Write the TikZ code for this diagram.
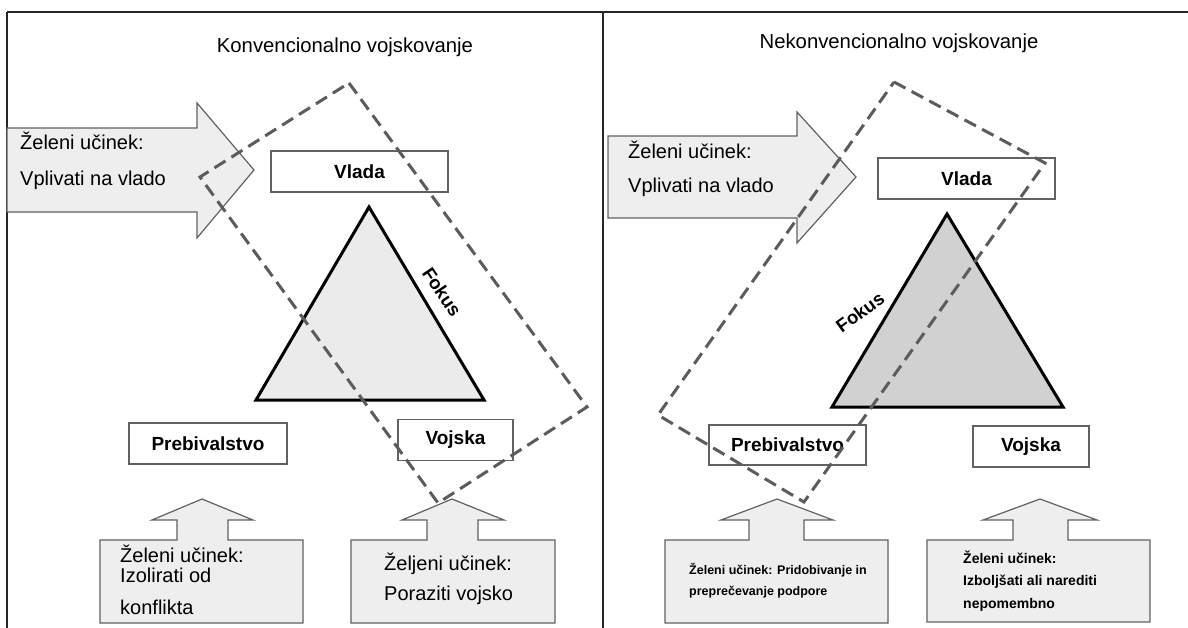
\documentclass[tikz,border=0pt]{standalone}
\usepackage{fontspec}
\setmainfont{Liberation Sans}
\usepackage{xcolor}
\usetikzlibrary{calc}
\definecolor{effectfill}{gray}{0.935}
\definecolor{lightpeak}{gray}{0.92}
\definecolor{darkpeak}{gray}{0.82}
\definecolor{edgegray}{gray}{0.38}
\definecolor{focusgray}{gray}{0.36}
\tikzset{
  heading/.style={inner sep=0pt,font=\fontsize{20.3}{24}\selectfont},
  effecttext/.style={anchor=west,inner sep=0pt,text height=0.75em,text depth=0.2em,font=\fontsize{20}{24}\selectfont},
  smalleffect/.style={anchor=west,inner sep=0pt,text height=0.75em,text depth=0.2em,font=\fontsize{12.5}{15}\selectfont\bfseries},
  mideffect/.style={anchor=west,inner sep=0pt,text height=0.75em,text depth=0.2em,font=\fontsize{14}{17}\selectfont\bfseries},
  field/.style={draw=edgegray,line width=1.5pt,fill=white,inner sep=0pt,minimum height=41pt,font=\fontsize{19}{22}\selectfont\bfseries},
  effect/.style={draw=edgegray,line width=1.2pt,fill=effectfill,line join=miter},
  peak/.style={draw=black,line width=3pt,line join=miter},
  focusline/.style={draw=focusgray,line width=3pt,dash pattern=on 13pt off 7pt},
  focuslabel/.style={inner sep=0pt,font=\fontsize{18.5}{20}\selectfont\bfseries}
}
\begin{document}
\begin{tikzpicture}[x=1pt,y=-1pt]
  \useasboundingbox (0,0) rectangle (1188,628);
  % frame
  \draw[line width=2.5pt,black!85] (7,12) -- (1188,12);
  \draw[line width=2pt,black!85] (7,12) -- (7,628);
  \draw[line width=2pt,black!85] (603,12) -- (603,628);

  % conventional warfare
  \node[heading] (titleL) at (345,47) {Konvencionalno vojskovanje};
  \draw[effect] (7,128) -- (197,128) -- (197,103) -- (254,170) -- (197,238) -- (197,212) -- (7,212) -- cycle;
  \node[effecttext] (aimL1) at (20,147) {Želeni učinek:};
  \node[effecttext] (aimL2) at (20,183) {Vplivati na vlado};
  \draw[effect] (100,540) -- (177,540) -- (177,520) -- (152,520) -- (202,499) -- (253,520) -- (228,520) -- (228,540) -- (303,540) -- (303,623) -- (100,623) -- cycle;
  \node[effecttext] (popaimL1) at (120,560) {Želeni učinek:};
  \node[effecttext] (popaimL2) at (120,580) {Izolirati od};
  \node[effecttext] (popaimL3) at (120,612) {konflikta};
  \draw[effect] (351,540) -- (427,540) -- (427,520) -- (402,520) -- (452,499) -- (504,520) -- (478,520) -- (478,540) -- (555,540) -- (555,623) -- (351,623) -- cycle;
  \node[effecttext] (armyaimL1) at (384,568) {Željeni učinek:};
  \node[effecttext] (armyaimL2) at (384,598) {Poraziti vojsko};
  \draw[peak,fill=lightpeak] (369,207) -- (484,400) -- (256,400) -- cycle;
  \node[field,minimum width=177pt] (vladaL) at (359.5,171.5) {Vlada};
  \node[field,minimum width=158pt] (prebL) at (208,443.5) {Prebivalstvo};
  \node[field,minimum width=115pt] (vojskaL) at (455.5,440) {Vojska};
  \node[focuslabel,rotate=-56] (fokusL) at (442,292) {Fokus};
  \draw[focusline] (349,83) -- (587,407) -- (438,503) -- (200,177) -- cycle;

  % unconventional warfare
  \node[heading] (titleR) at (899,43) {Nekonvencionalno vojskovanje};
  \draw[effect] (608,136) -- (797,136) -- (797,112) -- (856,177) -- (797,243) -- (797,218) -- (608,218) -- cycle;
  \node[effecttext] (aimR1) at (628,156) {Želeni učinek:};
  \node[effecttext] (aimR2) at (628,190) {Vplivati na vlado};
  \draw[effect] (665,540) -- (749,540) -- (749,520) -- (721,520) -- (777,499) -- (833,520) -- (804,520) -- (804,540) -- (888,540) -- (888,623) -- (665,623) -- cycle;
  \node[smalleffect] (popaimR1) at (689,572) {Želeni učinek: Pridobivanje in};
  \node[smalleffect] (popaimR2) at (689,593) {preprečevanje podpore};
  \draw[effect] (927,540) -- (1013,540) -- (1013,520) -- (983,520) -- (1040,499) -- (1097,520) -- (1068,520) -- (1068,540) -- (1150,540) -- (1150,622) -- (927,622) -- cycle;
  \node[mideffect] (armyaimR1) at (963,561) {Želeni učinek:};
  \node[mideffect] (armyaimR2) at (963,583) {Izboljšati ali narediti};
  \node[mideffect] (armyaimR3) at (963,606) {nepomembno};
  \draw[peak,fill=darkpeak] (947,214) -- (1063,407) -- (832,407) -- cycle;
  \node[field,minimum width=177pt] (vladaR) at (966.5,178.5) {Vlada};
  \node[field,minimum width=157pt,minimum height=40pt] (prebR) at (787.5,445) {Prebivalstvo};
  \node[field,minimum width=116pt] (vojskaR) at (1031,446.5) {Vojska};
  \node[focuslabel,rotate=36] (fokusR) at (860,312) {Fokus};
  \draw[focusline] (894,82) -- (1045,163) -- (804,502) -- (658,415) -- cycle;
\end{tikzpicture}
\end{document}
